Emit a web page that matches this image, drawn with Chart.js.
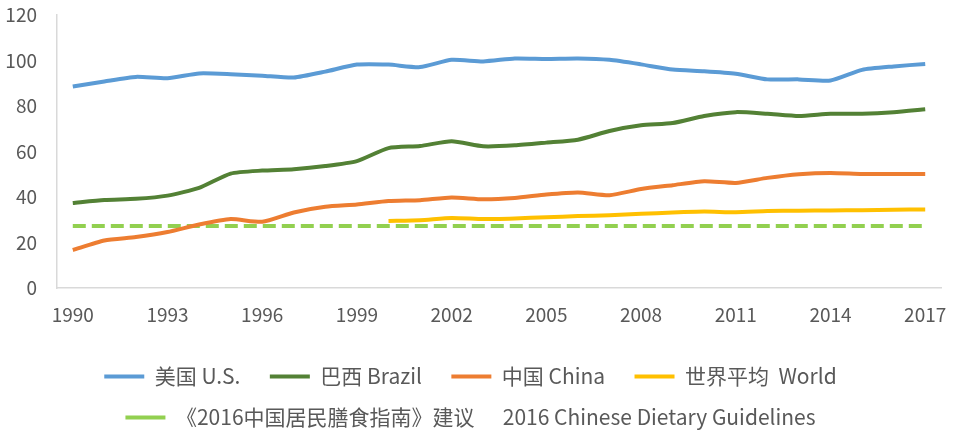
<!DOCTYPE html>
<html>
<head>
<meta charset="utf-8">
<script src="https://cdn.jsdelivr.net/npm/chart.js@4/dist/chart.umd.min.js"></script>
<style>
  html, body { margin: 0; padding: 0; background: #ffffff; }
  #wrap { width: 960px; height: 432px; }
</style>
</head>
<body>
<div id="wrap"><canvas id="c" width="960" height="432"></canvas></div>
<script>
const years = [1990,1991,1992,1993,1994,1995,1996,1997,1998,1999,2000,2001,2002,2003,2004,2005,2006,2007,2008,2009,2010,2011,2012,2013,2014,2015,2016,2017];
const usValues = [88.6,90.8,92.8,92.2,94.3,94.0,93.3,92.5,95.1,98.2,98.2,97.1,100.3,99.6,100.9,100.7,100.9,100.3,98.3,96.0,95.3,94.2,91.7,91.7,91.2,95.9,97.4,98.5];
const brazilValues = [37.4,38.7,39.2,40.6,44.0,50.3,51.6,52.2,53.6,55.8,61.5,62.4,64.5,62.3,62.7,63.9,65.2,69.0,71.5,72.5,75.6,77.3,76.6,75.6,76.6,76.6,77.3,78.6];
const chinaValues = [16.7,20.9,22.4,24.6,27.9,30.3,29.1,33.2,35.7,36.7,38.2,38.6,39.8,39.0,39.6,41.1,42.0,40.8,43.5,45.2,46.9,46.2,48.4,50.0,50.6,50.1,50.1,50.1];
const worldValues = [null,null,null,null,null,null,null,null,null,null,29.5,29.8,30.8,30.3,30.6,31.1,31.6,32.0,32.6,33.2,33.6,33.3,33.8,34.0,34.1,34.2,34.4,34.5];
const guidelineValues = [27.3,27.3,27.3,27.3,27.3,27.3,27.3,27.3,27.3,27.3,27.3,27.3,27.3,27.3,27.3,27.3,27.3,27.3,27.3,27.3,27.3,27.3,27.3,27.3,27.3,27.3,27.3,27.3];
const seriesNames = ['美国 U.S.', '巴西 Brazil', '中国 China', '世界平均  World', '《2016中国居民膳食指南》建议      2016 Chinese Dietary Guidelines'];
const yTicks = [0,20,40,60,80,100,120];

const FONT = "'Noto Sans CJK SC', 'Noto Sans', sans-serif";
const TXT = '#595959';

const ctx = document.getElementById('c').getContext('2d');
new Chart(ctx, {
  type: 'line',
  data: {
    labels: years.map(String),
    datasets: [
      { label: seriesNames[0], data: usValues, borderColor: '#5B9BD5', backgroundColor: '#5B9BD5', borderWidth: 4, pointRadius: 0, tension: 0.2 },
      { label: seriesNames[1], data: brazilValues, borderColor: '#538135', backgroundColor: '#538135', borderWidth: 4, pointRadius: 0, tension: 0.2 },
      { label: seriesNames[2], data: chinaValues, borderColor: '#ED7D31', backgroundColor: '#ED7D31', borderWidth: 4, pointRadius: 0, tension: 0.2 },
      { label: seriesNames[3], data: worldValues, borderColor: '#FFC000', backgroundColor: '#FFC000', borderWidth: 4, pointRadius: 0, tension: 0.2 },
      { label: seriesNames[4], data: guidelineValues, borderColor: '#92D050', backgroundColor: '#92D050', borderWidth: 4, borderDash: [13, 6], pointRadius: 0, tension: 0 }
    ]
  },
  options: {
    responsive: false,
    animation: false,
    layout: { padding: { top: 15, right: 19, left: 0, bottom: -6 } },
    plugins: {
      tooltip: { enabled: false },
      legend: {
        display: true,
        position: 'bottom',
        labels: {
          usePointStyle: true,
          pointStyle: 'line',
          pointStyleWidth: 40,
          padding: 20,
          color: TXT,
          font: { family: FONT, size: 21 },
          generateLabels: function(chart) {
            const items = Chart.defaults.plugins.legend.labels.generateLabels(chart);
            items.forEach((it, i) => {
              it.pointStyle = 'line';
              if (i < 3) it.text = it.text + '  ';
            });
            return items;
          }
        }
      }
    },
    scales: {
      x: {
        offset: true,
        grid: { display: true, drawOnChartArea: false, drawTicks: true, tickLength: 15, color: 'rgba(0,0,0,0)' },
        border: { display: true, color: '#D9D9D9', width: 1.5 },
        ticks: {
          autoSkip: false,
          maxRotation: 0,
          padding: 0,
          color: TXT,
          font: { family: FONT, size: 19 },
          callback: function(value, index) { return index % 3 === 0 ? this.getLabelForValue(value) : ''; }
        },
        afterFit: function(scale) { scale.height = 58; }
      },
      y: {
        min: 0, max: 120,
        grid: { display: true, drawOnChartArea: false, drawTicks: true, tickLength: 20, color: 'rgba(0,0,0,0)' },
        border: { display: true, color: '#D9D9D9', width: 1.5 },
        afterBuildTicks: function(scale) { scale.ticks = yTicks.map(v => ({ value: v })); },
        ticks: {
          padding: 0,
          color: TXT,
          font: { family: FONT, size: 19 }
        },
        afterFit: function(scale) { scale.width = 57; }
      }
    }
  }
});
</script>
</body>
</html>
